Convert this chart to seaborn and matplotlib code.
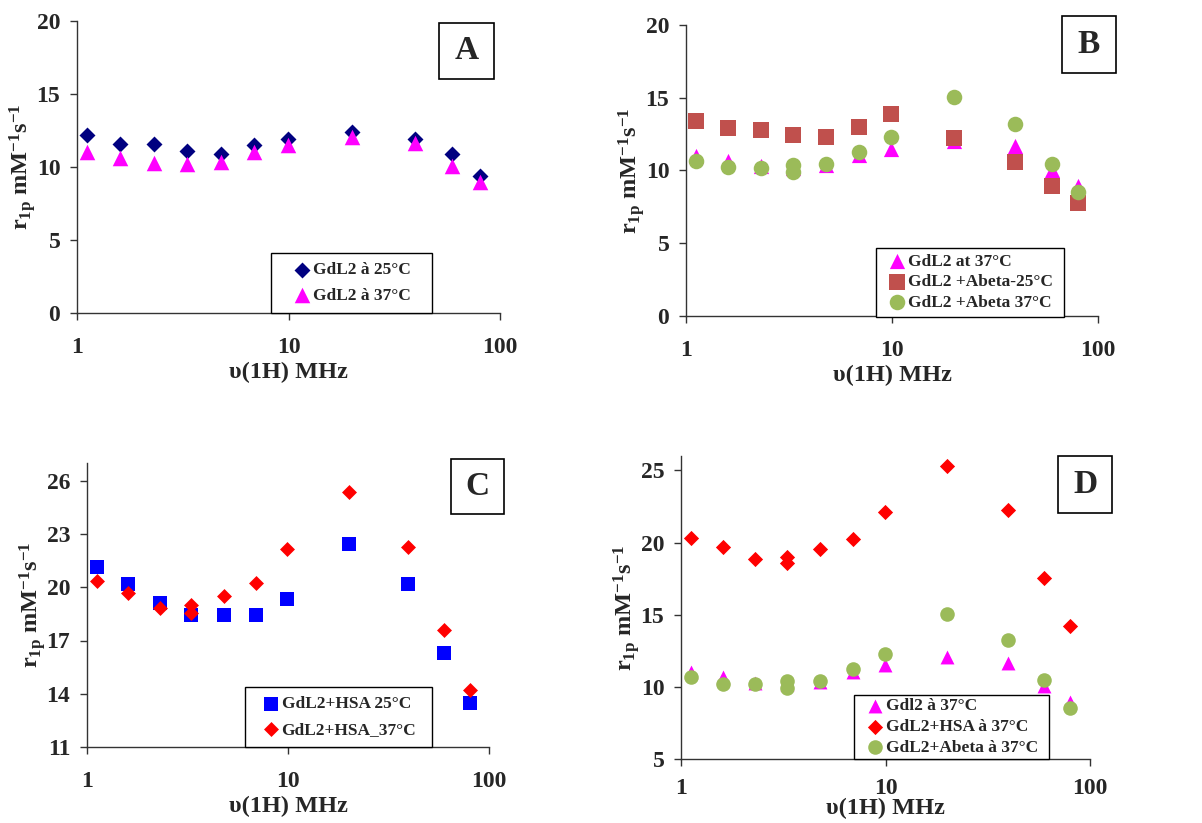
import matplotlib
matplotlib.use("Agg")
import matplotlib.pyplot as plt
import seaborn as sns
import pandas as pd
from matplotlib.patches import Rectangle

# ---------------- data ----------------
freq = [1.12, 1.6, 2.3, 3.3, 4.8, 6.9, 9.9, 20, 39.5, 59.5, 80]
freq_dup = [1.12, 1.6, 2.3, 3.3, 3.3, 4.8, 6.9, 9.9, 20, 39.5, 59.5, 80]

gdl2_25 = [12.2, 11.6, 11.6, 11.1, 10.9, 11.5, 11.9, 12.4, 11.9, 10.9, 9.4]
gdl2_37 = [11.0, 10.65, 10.3, 10.2, 10.35, 11.05, 11.5, 12.05, 11.65, 10.05, 8.95]
abeta_25 = [13.4, 12.9, 12.75, 12.45, 12.3, 13.0, 13.85, 12.2, 10.6, 8.95, 7.75]
abeta_37 = [10.65, 10.23, 10.18, 10.4, 9.9, 10.44, 11.24, 12.3, 15.07, 13.22, 10.48, 8.52]
hsa_25 = [21.15, 20.2, 19.1, 18.46, 18.42, 18.42, 19.36, 22.45, 20.16, 16.3, 13.5]
hsa_37 = [20.33, 19.69, 18.83, 18.98, 18.57, 19.53, 20.23, 22.13, 25.34, 22.28, 17.57, 14.22]

x_ticks = [1, 10, 100]
x_tick_labels = ["1", "10", "100"]
yticks_A = [0, 5, 10, 15, 20]
yticks_B = [0, 5, 10, 15, 20]
yticks_C = [11, 14, 17, 20, 23, 26]
yticks_D = [5, 10, 15, 20, 25]
panel_letters = ["A", "B", "C", "D"]

legend_A = ["GdL2 à 25°C", "GdL2 à 37°C"]
legend_B = ["GdL2 at 37°C", "GdL2 +Abeta-25°C", "GdL2 +Abeta 37°C"]
legend_C = ["GdL2+HSA 25°C", "GdL2+HSA_37°C"]
legend_D = ["Gdl2 à 37°C", "GdL2+HSA à 37°C", "GdL2+Abeta à 37°C"]

x_label = "υ(1H) MHz"
y_label = r"r$_{1p}$ mM$^{-1}$s$^{-1}$"

# ---------------- style ----------------
sns.set_style("ticks")
plt.rcParams["font.family"] = ["Liberation Serif", "DejaVu Serif"]
plt.rcParams["font.weight"] = "bold"
plt.rcParams["mathtext.fontset"] = "custom"
plt.rcParams["mathtext.rm"] = "Liberation Serif:bold"
plt.rcParams["mathtext.bf"] = "Liberation Serif:bold"
plt.rcParams["mathtext.it"] = "Liberation Serif:bold"
plt.rcParams["mathtext.default"] = "bf"

W, H = 1202, 823
fig = plt.figure(figsize=(W / 100, H / 100), dpi=100)


def px_rect(l, t, r, b):
    return [l / W, 1 - b / H, (r - l) / W, (b - t) / H]


NAVY = "#000080"
MAGENTA = "#FF00FF"
BROWN = "#C0504D"
GREEN = "#9BBB59"
BLUE = "#0000FF"
RED = "#FF0000"

panels = [
    dict(ax=(77, 21, 500, 313), ylim=(0, 20), yticks=yticks_A,
         series=[(freq, gdl2_25, legend_A[0], "D", NAVY, 66),
                 (freq, gdl2_37, legend_A[1], "^", MAGENTA, 125)],
         leg=(270.7, 253.3, 431.7, 312.7), lsp=0.55,
         box=(439, 22.7, 494, 78.7), xpad=12, xlabel_top=None),
    dict(ax=(686, 25, 1098, 316), ylim=(0, 20), yticks=yticks_B,
         series=[(freq, gdl2_37, legend_B[0], "^", MAGENTA, 120),
                 (freq, abeta_25, legend_B[1], "s", BROWN, 120),
                 (freq_dup, abeta_37, legend_B[2], "o", GREEN, 125)],
         leg=(876, 247.7, 1064, 316.7), lsp=0.26,
         box=(1062, 16, 1116, 72.7), xpad=12, xlabel_top=None),
    dict(ax=(87, 463, 489, 747), ylim=(11, 27), yticks=yticks_C,
         series=[(freq, hsa_25, legend_C[0], "s", BLUE, 110),
                 (freq_dup, hsa_37, legend_C[1], "D", RED, 58)],
         leg=(245, 687, 432, 747), lsp=0.55,
         box=(451, 459, 504, 514), xpad=12, xlabel_top=None),
    dict(ax=(681, 456, 1090, 759), ylim=(5, 26), yticks=yticks_D,
         series=[(freq, gdl2_37, legend_D[0], "^", MAGENTA, 100),
                 (freq_dup, hsa_37, legend_D[1], "D", RED, 60),
                 (freq_dup, abeta_37, legend_D[2], "o", GREEN, 110)],
         leg=(854, 695, 1049, 759), lsp=0.26,
         box=(1058, 456, 1112, 513), xpad=9, xlabel_top=798),
]

for letter, p in zip(panel_letters, panels):
    l_, t_, r_, b_ = p["ax"]
    ax = fig.add_axes(px_rect(l_, t_, r_, b_))
    for xs, ys, lab, mk, col, s in p["series"]:
        df = pd.DataFrame({"f": xs, "r": ys})
        sns.scatterplot(data=df, x="f", y="r", ax=ax, marker=mk, color=col,
                        s=s, linewidth=0, label=lab, clip_on=False, zorder=3)
    ax.set_xscale("log")
    ax.set_xlim(1, 100)
    ax.set_ylim(*p["ylim"])
    ax.set_xticks(x_ticks)
    ax.set_xticklabels(x_tick_labels)
    ax.xaxis.set_minor_locator(matplotlib.ticker.NullLocator())
    ax.set_yticks(p["yticks"])
    ax.set_yticklabels([str(v) for v in p["yticks"]])
    ax.tick_params(axis="both", which="major", labelsize=17, direction="out",
                   length=5, width=1, color="#333333")
    ax.tick_params(axis="x", pad=p["xpad"])
    ax.tick_params(axis="y", pad=7)
    for lbl in ax.get_xticklabels() + ax.get_yticklabels():
        lbl.set_fontweight("bold")
    sns.despine(ax=ax)
    for sp in ("left", "bottom"):
        ax.spines[sp].set_color("#333333")
        ax.spines[sp].set_linewidth(1)
    ax.set_xlabel(x_label, fontsize=17.5, fontweight="bold", labelpad=3)
    if p["xlabel_top"] is not None:
        ax.xaxis.set_label_coords(0.5, (b_ - p["xlabel_top"]) / (b_ - t_))
    ax.set_ylabel(y_label, fontsize=17.5, fontweight="bold", labelpad=-1)

    # legend with white boxed frame
    l, t, r, b = p["leg"]
    rect = Rectangle((l / W, 1 - b / H), (r - l) / W, (b - t) / H,
                     transform=fig.transFigure, facecolor="white",
                     edgecolor="black", linewidth=1, zorder=5)
    fig.patches.append(rect)
    handles, labels = ax.get_legend_handles_labels()
    leg = fig.legend(handles, labels, loc="center",
                     bbox_to_anchor=((l + r) / 2 / W, 1 - (t + b) / 2 / H),
                     bbox_transform=fig.transFigure, frameon=False,
                     prop={"family": "Liberation Serif", "weight": "bold", "size": 12.5},
                     handletextpad=0.0, handlelength=1.2, labelspacing=p["lsp"],
                     borderpad=0, markerscale=1.0)
    leg.set_zorder(6)
    if ax.get_legend() is not None:
        ax.get_legend().remove()

    # panel letter box
    l, t, r, b = p["box"]
    rect2 = Rectangle((l / W, 1 - b / H), (r - l) / W, (b - t) / H,
                      transform=fig.transFigure, facecolor="white",
                      edgecolor="black", linewidth=1.2, zorder=5)
    fig.patches.append(rect2)
    fig.text((l + r) / 2 / W, 1 - (t + b) / 2 / H, letter, ha="center",
             va="center", fontsize=24, fontweight="bold", zorder=6)

fig.savefig("out.png", dpi=100)
